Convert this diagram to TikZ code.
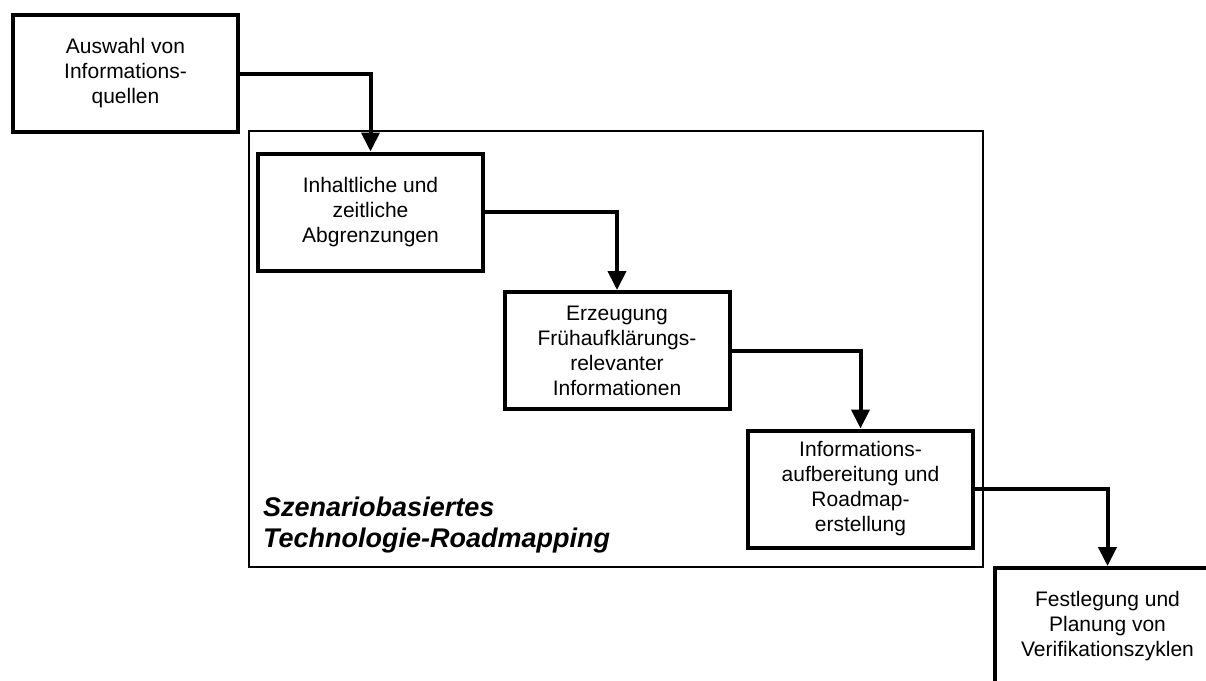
\documentclass[tikz,border=0pt]{standalone}
\usepackage{fontspec}
\setmainfont{Liberation Sans}
\usetikzlibrary{arrows.meta,positioning}

\begin{document}
\begin{tikzpicture}[x=1pt,y=-1pt,
    stepbox/.style={draw,line width=4pt,minimum width=225pt,minimum height=117pt,
      inner sep=0pt,align=center,font=\fontsize{21}{25}\selectfont},
    flow/.style={line width=4pt,-{Triangle[width=18pt,length=19pt]}}]
        \useasboundingbox (0,0) rectangle (1206,680);
        \clip (0,0) rectangle (1206,680);
        \draw[line width=1.3pt] (249,131) rectangle (983,567);
        \node[anchor=north west,align=left,inner sep=0pt,
          font=\fontsize{27}{31}\selectfont\bfseries\itshape] (rmlabel) at (263,497)
          {Szenariobasiertes\\Technologie-Roadmapping};
        \node[stepbox] (quellen) at (125.5,73.5) {Auswahl von\\Informations-\\quellen};
        \node[stepbox] (abgrenz) at (370.5,212) {Inhaltliche und\\zeitliche\\Abgrenzungen};
        \node[stepbox] (erzeug) at (617,350.5) {Erzeugung\\Frühaufklärungs-\\relevanter\\Informationen};
        \node[stepbox] (aufber) at (860.5,489) {Informations-\\aufbereitung und\\Roadmap-\\erstellung};
        \node[stepbox] (verif) at (1107.5,626.5) {Festlegung und\\Planung von\\Verifikationszyklen};
        \draw[flow] (quellen.east) -| (abgrenz.north);
        \draw[flow] (abgrenz.east) -| (erzeug.north);
        \draw[flow] (erzeug.east) -| (aufber.north);
        \draw[flow] (aufber.east) -| (verif.north);
      \end{tikzpicture}
\end{document}
